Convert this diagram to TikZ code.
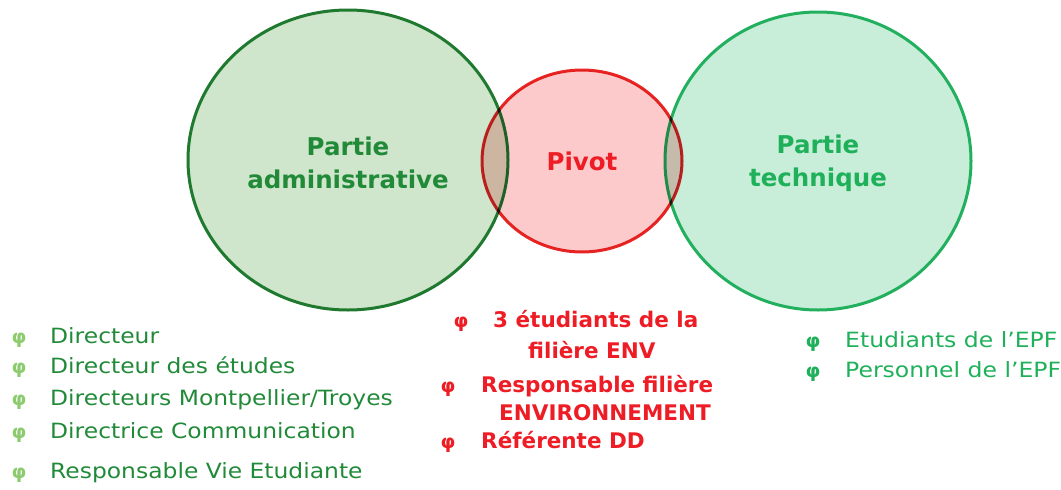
\documentclass[tikz,border=0pt]{standalone}
\usepackage{fontspec}
\usepackage{graphicx}
\setmainfont{DejaVu Sans}
\usetikzlibrary{shapes.geometric}
\definecolor{admstroke}{HTML}{1F7A30}
\definecolor{admfill}{HTML}{CFE5CC}
\definecolor{admtext}{HTML}{218A38}
\definecolor{admbullet}{HTML}{8DCB6E}
\definecolor{pivstroke}{HTML}{E82727}
\definecolor{pivfill}{HTML}{FCCACA}
\definecolor{pivtext}{HTML}{EE1C24}
\definecolor{tecstroke}{HTML}{22B05E}
\definecolor{tecfill}{HTML}{C8EDD9}
\definecolor{tectext}{HTML}{1FB05A}
\newcommand{\admw}[1]{\scalebox{1.115}[1]{#1}}
\newcommand{\tecw}[1]{\scalebox{1.12}[1]{#1}}
\tikzset{
  blob/.style={ellipse, line width=3pt, inner sep=0pt},
  title/.style={font=\fontsize{24.5}{33}\selectfont\bfseries, align=center},
  admitem/.style={anchor=base west, inner sep=0pt, text=admtext, font=\fontsize{21}{26}\selectfont},
  pivitem/.style={anchor=base west, inner sep=0pt, text=pivtext, font=\fontsize{21.5}{26}\selectfont\bfseries},
  tecitem/.style={anchor=base west, inner sep=0pt, text=tectext, font=\fontsize{21}{26}\selectfont},
  bul/.style={anchor=base, inner sep=0pt, font=\fontsize{19}{20}\selectfont\bfseries}
}
\begin{document}
\begin{tikzpicture}[x=1pt,y=-1pt]
\useasboundingbox (0,0) rectangle (1061,490);
% circles
\node[blob, draw=admstroke, fill=admfill, minimum width=320pt, minimum height=300pt] (adm) at (348,160) {};
\node[blob, draw=tecstroke, fill=tecfill, minimum width=306pt, minimum height=298pt] (tec) at (818,161) {};
\node[blob, draw=pivstroke, fill=pivfill, blend mode=multiply, minimum width=200pt, minimum height=182pt] (piv) at (582,161) {};
% titles
\node[title, text=admtext] (admt) at (348,163) {Partie\\administrative};
\node[title, text=tectext] (tect) at (818,163) {Partie\\technique};
\node[title, text=pivtext] (pivt) at (582,161) {Pivot};
% left list
\node[bul, text=admbullet] (ab1) at (19,343) {φ};
\node[admitem] (a1) at (50,343) {\admw{Directeur}};
\node[bul, text=admbullet] (ab2) at (19,373) {φ};
\node[admitem] (a2) at (50,373) {\admw{Directeur des études}};
\node[bul, text=admbullet] (ab3) at (19,405) {φ};
\node[admitem] (a3) at (50,405) {\admw{Directeurs Montpellier/Troyes}};
\node[bul, text=admbullet] (ab4) at (19,438) {φ};
\node[admitem] (a4) at (50,438) {\admw{Directrice Communication}};
\node[bul, text=admbullet] (ab5) at (19,478) {φ};
\node[admitem] (a5) at (50,478) {\admw{Responsable Vie Etudiante}};
% middle list
\node[bul, text=pivtext] (pb1) at (461,327) {φ};
\node[pivitem] (p1) at (493,327) {3 étudiants de la};
\node[pivitem] (p1b) at (528,358) {filière ENV};
\node[bul, text=pivtext] (pb2) at (448,392) {φ};
\node[pivitem] (p2) at (481,392) {Responsable filière};
\node[pivitem] (p2b) at (499,420) {ENVIRONNEMENT};
\node[bul, text=pivtext] (pb3) at (448,448) {φ};
\node[pivitem] (p3) at (481,448) {Référente DD};
% right list
\node[bul, text=tectext] (tb1) at (813,347) {φ};
\node[tecitem] (t1) at (845,347) {\tecw{Etudiants de l’EPF}};
\node[bul, text=tectext] (tb2) at (813,377) {φ};
\node[tecitem] (t2) at (845,377) {\tecw{Personnel de l’EPF}};
\end{tikzpicture}
\end{document}
